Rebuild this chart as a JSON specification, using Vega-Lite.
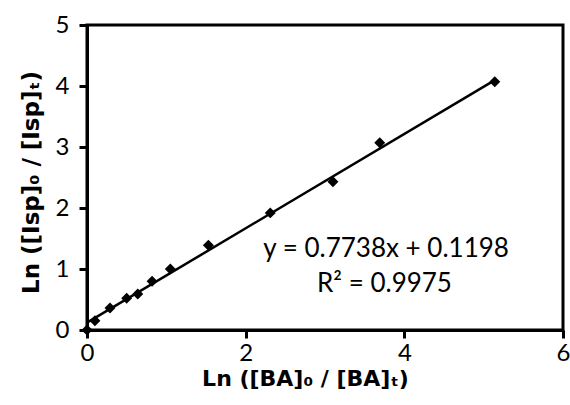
{
  "$schema": "https://vega.github.io/schema/vega-lite/v6.json",
  "width": 476,
  "height": 305,
  "autosize": {"type": "none"},
  "padding": {"left": 87, "top": 25, "right": 7, "bottom": 75},
  "background": "white",
  "config": {
    "view": {"stroke": "black", "strokeWidth": 3},
    "font": "Lato"
  },
  "datasets": {
    "pts": [
      {"x": 0, "y": 0},
      {"x": 0.1, "y": 0.15},
      {"x": 0.29, "y": 0.36},
      {"x": 0.5, "y": 0.52},
      {"x": 0.64, "y": 0.59},
      {"x": 0.82, "y": 0.8},
      {"x": 1.05, "y": 1.0},
      {"x": 1.53, "y": 1.39},
      {"x": 2.31, "y": 1.92},
      {"x": 3.1, "y": 2.43},
      {"x": 3.69, "y": 3.07},
      {"x": 5.14, "y": 4.07}
    ],
    "fit": [
      {"x": 0, "y": 0.1198},
      {"x": 5.14, "y": 4.0971}
    ],
    "labels": [
      {"x": 3.77, "y": 1.33, "t": "y = 0.7738x + 0.1198"},
      {"x": 3.75, "y": 0.75, "t": "R² = 0.9975"}
    ]
  },
  "layer": [
    {
      "data": {"name": "fit"},
      "mark": {"type": "line", "color": "black", "strokeWidth": 2.5},
      "encoding": {
        "x": {
          "field": "x", "type": "quantitative",
          "scale": {"domain": [0, 6], "nice": false},
          "axis": {
            "title": "Ln ([BA]₀ / [BA]ₜ)",
            "values": [0, 2, 4, 6],
            "format": "d",
            "grid": false,
            "labelFlush": false,
            "labelOverlap": false,
            "domainColor": "black", "domainWidth": 3,
            "tickColor": "black", "tickWidth": 3, "tickSize": 8,
            "labelFont": "Lato", "labelFontSize": 24, "labelColor": "black", "labelPadding": 3,
            "titleFont": "DejaVu Sans", "titleFontSize": 22, "titleFontWeight": "bold", "titleColor": "black", "titlePadding": 3,
            "titleX": 218
          }
        },
        "y": {
          "field": "y", "type": "quantitative",
          "scale": {"domain": [0, 5], "nice": false},
          "axis": {
            "title": "Ln ([Isp]₀ / [Isp]ₜ)",
            "values": [0, 1, 2, 3, 4, 5],
            "format": "d",
            "grid": false,
            "labelFlush": false,
            "labelOverlap": false,
            "domainColor": "black", "domainWidth": 3,
            "tickColor": "black", "tickWidth": 3, "tickSize": 8,
            "labelFont": "Lato", "labelFontSize": 24, "labelColor": "black", "labelPadding": 10,
            "titleFont": "DejaVu Sans", "titleFontSize": 23, "titleFontWeight": "bold", "titleColor": "black", "titlePadding": 12,
            "titleY": 157
          }
        }
      }
    },
    {
      "data": {"name": "pts"},
      "mark": {"type": "point", "shape": "diamond", "filled": true, "color": "black", "size": 120, "opacity": 1},
      "encoding": {
        "x": {"field": "x", "type": "quantitative"},
        "y": {"field": "y", "type": "quantitative"}
      }
    },
    {
      "data": {"name": "labels"},
      "mark": {"type": "text", "font": "Lato", "fontSize": 26, "color": "black", "align": "center", "baseline": "middle"},
      "encoding": {
        "x": {"field": "x", "type": "quantitative"},
        "y": {"field": "y", "type": "quantitative"},
        "text": {"field": "t"}
      }
    }
  ]
}
